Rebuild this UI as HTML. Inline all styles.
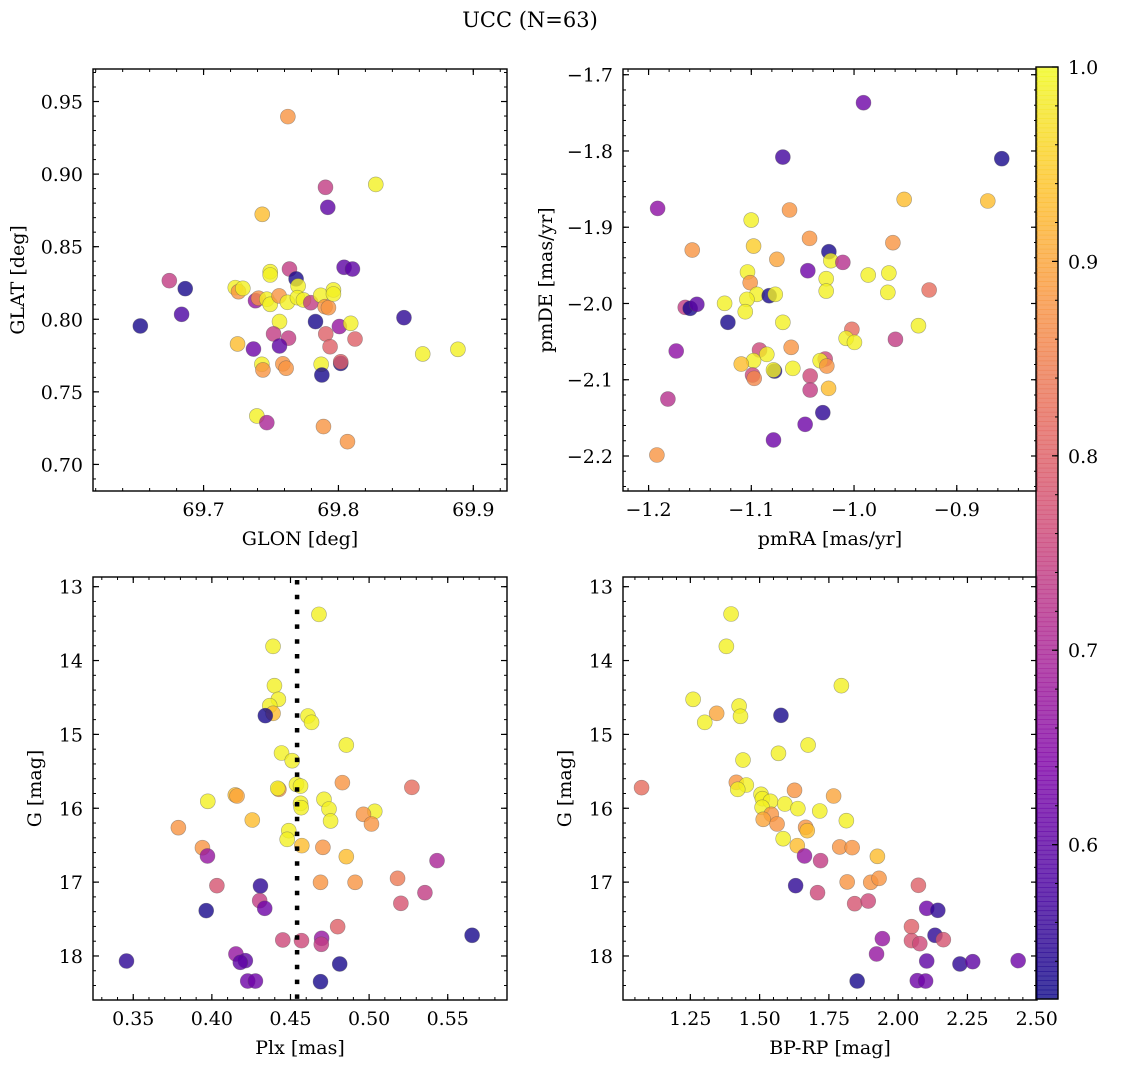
<!DOCTYPE html>
<html><head><meta charset="utf-8"><style>
html,body{margin:0;padding:0;background:#fff}
svg{display:block;font-family:"DejaVu Serif","Liberation Serif",serif}
</style></head><body>
<svg id="fig" width="1136" height="1067" viewBox="0 0 1136 1067" xmlns="http://www.w3.org/2000/svg">
<rect width="1136" height="1067" fill="#fff"/>
<text x="530" y="27" font-size="21" text-anchor="middle">UCC (N=63)</text>
</svg>
<script>
// ---- Panel 1: GLON / GLAT ----
const p1Glon=[69.7625,69.7904,69.8277,69.7921,69.7435,69.7637,69.8042,69.8104,69.7494,69.7494,69.7686,69.7701,69.6746,69.6864,69.7235,69.7259,69.7291,69.7385,69.7407,69.7469,69.7494,69.7560,69.7622,69.7696,69.7741,69.7795,69.7869,69.7901,69.7926,69.7963,69.7963,69.6837,69.6531,69.7830,69.7563,69.8007,69.8091,69.8486,69.7519,69.7630,69.7906,69.7938,69.8123,69.7252,69.7370,69.7563,69.8625,69.8886,69.7432,69.7440,69.7588,69.7612,69.7872,69.7877,69.8017,69.8017,69.7395,69.7469,69.7889,69.8067];
const p1Glat=[0.9396,0.8909,0.8929,0.8771,0.8723,0.8346,0.8358,0.8346,0.8328,0.8305,0.8278,0.8229,0.8266,0.8211,0.8218,0.8190,0.8213,0.8128,0.8145,0.8138,0.8103,0.8161,0.8117,0.8149,0.8133,0.8114,0.8165,0.8087,0.8080,0.8202,0.8174,0.8034,0.7954,0.7984,0.7984,0.7950,0.7972,0.8011,0.7899,0.7870,0.7899,0.7811,0.7864,0.7830,0.7795,0.7816,0.7761,0.7793,0.7690,0.7651,0.7693,0.7663,0.7690,0.7616,0.7696,0.7707,0.7334,0.7288,0.7261,0.7157];
const p1Prob=[0.88,0.74,0.99,0.60,0.93,0.74,0.60,0.60,0.99,0.99,0.53,0.99,0.74,0.53,0.99,0.88,0.99,0.67,0.87,0.99,0.99,0.88,0.99,0.99,0.99,0.74,0.99,0.88,0.88,0.99,0.99,0.58,0.53,0.53,0.99,0.67,0.99,0.55,0.74,0.74,0.80,0.80,0.80,0.93,0.62,0.60,0.99,0.99,0.99,0.88,0.88,0.88,0.99,0.53,0.53,0.80,0.99,0.70,0.88,0.88];
// ---- Panel 2: pmRA / pmDE ----
const p2Pmra=[-0.9908,-1.0693,-0.8562,-1.1912,-0.9512,-0.8698,-1.0628,-1.1001,-1.1575,-1.0433,-1.0978,-0.9622,-1.0245,-1.0226,-1.0109,-1.0751,-1.0450,-1.1037,-1.0271,-0.9862,-0.9661,-1.1011,-1.0271,-0.9671,-0.9269,-1.0946,-1.0826,-1.0767,-1.1043,-1.1260,-1.1643,-1.1595,-1.1530,-1.1059,-1.1228,-1.0693,-0.9373,-1.0021,-1.0077,-0.9996,-0.9597,-1.1731,-1.0612,-1.0920,-1.0849,-1.0978,-1.1098,-1.0281,-1.0330,-1.0265,-1.0774,-1.0784,-1.0596,-1.0988,-1.0972,-1.0427,-1.0427,-1.0248,-1.1812,-1.0304,-1.0476,-1.0784,-1.1919];
const p2Pmde=[-1.7367,-1.8080,-1.8101,-1.8753,-1.8635,-1.8656,-1.8774,-1.8906,-1.9299,-1.9146,-1.9247,-1.9203,-1.9321,-1.9439,-1.9461,-1.9421,-1.9570,-1.9587,-1.9675,-1.9627,-1.9601,-1.9727,-1.9837,-1.9854,-1.9823,-1.9880,-1.9898,-1.9880,-1.9946,-1.9998,-2.0051,-2.0064,-2.0011,-2.0108,-2.0247,-2.0247,-2.0291,-2.0339,-2.0457,-2.0510,-2.0470,-2.0623,-2.0575,-2.0610,-2.0667,-2.0750,-2.0794,-2.0728,-2.0750,-2.0820,-2.0886,-2.0872,-2.0851,-2.0938,-2.0982,-2.0951,-2.1135,-2.1113,-2.1253,-2.1432,-2.1585,-2.1790,-2.1987];
const p2Prob=[0.62,0.57,0.53,0.66,0.93,0.93,0.88,0.99,0.88,0.88,0.95,0.88,0.53,0.99,0.72,0.90,0.62,0.99,0.99,0.99,0.99,0.88,0.99,0.99,0.82,0.99,0.53,0.99,0.99,0.99,0.74,0.53,0.60,0.99,0.53,0.99,0.99,0.82,0.99,0.99,0.74,0.66,0.88,0.76,0.99,0.99,0.93,0.76,0.99,0.88,0.53,0.99,0.99,0.76,0.86,0.76,0.74,0.93,0.72,0.55,0.62,0.62,0.88];
// ---- Panel 3: Plx / G ----
const p3Plx=[0.4681,0.4389,0.4398,0.4423,0.4368,0.4389,0.4340,0.4611,0.4634,0.4855,0.4443,0.4511,0.4830,0.5272,0.4538,0.4564,0.4426,0.4419,0.4149,0.4160,0.3974,0.4713,0.4564,0.4568,0.4745,0.5036,0.4964,0.4755,0.5015,0.4257,0.3787,0.4489,0.4479,0.4572,0.4706,0.3940,0.3972,0.4855,0.5432,0.5181,0.4691,0.4911,0.4032,0.4309,0.5355,0.5202,0.4304,0.4336,0.3964,0.4800,0.5655,0.4451,0.4570,0.4698,0.4696,0.4153,0.4213,0.4181,0.3457,0.4813,0.4228,0.4277,0.4691];
const p3G=[13.375,13.808,14.340,14.525,14.611,14.715,14.746,14.751,14.837,15.144,15.252,15.356,15.653,15.717,15.676,15.699,15.744,15.730,15.820,15.834,15.906,15.879,15.933,15.992,16.010,16.042,16.082,16.172,16.213,16.159,16.263,16.303,16.421,16.506,16.529,16.534,16.646,16.655,16.709,16.949,17.003,17.003,17.048,17.052,17.143,17.287,17.251,17.355,17.386,17.603,17.720,17.783,17.792,17.761,17.842,17.973,18.063,18.086,18.068,18.108,18.339,18.339,18.348];
const p3Prob=[0.99,0.99,0.99,0.99,0.99,0.93,0.53,0.99,0.99,0.99,0.99,0.99,0.88,0.82,0.99,0.99,0.88,0.99,0.93,0.90,0.99,0.99,0.99,0.99,0.99,0.99,0.88,0.99,0.88,0.93,0.88,0.99,0.99,0.93,0.88,0.88,0.67,0.93,0.70,0.84,0.88,0.88,0.78,0.55,0.74,0.78,0.74,0.62,0.53,0.80,0.53,0.76,0.76,0.67,0.74,0.67,0.60,0.60,0.55,0.53,0.62,0.62,0.53];
// ---- Panel 4: BP-RP / G ----
const p4Bprp=[1.397,1.380,1.795,1.260,1.426,1.345,1.577,1.431,1.302,1.675,1.568,1.440,1.074,1.416,1.452,1.421,1.626,1.505,1.767,1.510,1.539,1.591,1.509,1.638,1.717,1.542,1.513,1.813,1.563,1.666,1.672,1.585,1.789,1.834,1.636,1.925,1.662,1.720,1.816,1.901,1.931,2.073,1.630,1.709,1.843,1.892,2.103,2.143,2.048,2.133,1.943,2.048,2.078,2.163,1.922,2.103,2.223,2.269,2.433,1.852,2.069,2.099];
const p4G=[13.370,13.808,14.340,14.525,14.616,14.715,14.742,14.755,14.837,15.144,15.256,15.347,15.721,15.649,15.685,15.744,15.757,15.811,15.834,15.870,15.906,15.942,15.987,16.005,16.037,16.082,16.150,16.168,16.213,16.258,16.303,16.412,16.524,16.533,16.506,16.651,16.646,16.709,16.998,17.003,16.949,17.043,17.048,17.143,17.292,17.256,17.355,17.382,17.603,17.720,17.765,17.792,17.833,17.779,17.973,18.068,18.108,18.077,18.063,18.339,18.334,18.339];
const p4Prob=[0.99,0.99,0.99,0.99,0.99,0.90,0.53,0.99,0.99,0.99,0.99,0.99,0.82,0.88,0.99,0.99,0.88,0.99,0.90,0.99,0.99,0.99,0.99,0.99,0.99,0.88,0.90,0.99,0.88,0.88,0.93,0.99,0.88,0.88,0.93,0.93,0.67,0.74,0.88,0.88,0.88,0.80,0.55,0.76,0.78,0.76,0.62,0.55,0.80,0.55,0.67,0.78,0.76,0.78,0.67,0.60,0.55,0.60,0.62,0.53,0.62,0.62];
const plxMedian=[0.4542];
const cbTicks=[0.6,0.7,0.8,0.9,1.0];
const VMIN=0.5206, VMAX=1.0;

const NS='http://www.w3.org/2000/svg';
const svg=document.getElementById('fig');
const FS=19;
function mk(tag,attrs,parent){const e=document.createElementNS(NS,tag);for(const k in attrs)e.setAttribute(k,attrs[k]);(parent||svg).appendChild(e);return e;}
const stops=[[0,13,8,135],[0.125,76,2,161],[0.25,126,3,168],[0.375,169,35,149],[0.5,204,71,120],[0.625,229,107,93],[0.75,248,148,65],[0.875,253,195,40],[1,240,249,33]];
function plasma(t){t=Math.max(0,Math.min(1,t));for(let i=1;i<stops.length;i++){if(t<=stops[i][0]){const a=stops[i-1],b=stops[i],f=(t-a[0])/(b[0]-a[0]);return 'rgb('+[1,2,3].map(j=>Math.round(a[j]+f*(b[j]-a[j]))).join(',')+')';}}return 'rgb(240,249,33)';}
function colorOf(p){return plasma((p-VMIN)/(VMAX-VMIN));}
function fmt(v,d){const s=v.toFixed(d);return s.startsWith('-')?'\u2212'+s.slice(1):s;}
function range(min,max,step){const out=[];const a=Math.ceil(min/step-1e-6),b=Math.floor(max/step+1e-6);for(let k=a;k<=b;k++)out.push(k*step);return out;}

function panel(c,xs,ys,ps){
  const g=mk('g',{});
  
  
  const sx=v=>c.L+(v-c.xmin)/(c.xmax-c.xmin)*(c.R-c.L);
  const sy=c.inv?(v=>c.T+(v-c.ymin)/(c.ymax-c.ymin)*(c.B-c.T)):(v=>c.B-(v-c.ymin)/(c.ymax-c.ymin)*(c.B-c.T));
  c.sx=sx;c.sy=sy;
  range(c.xmin,c.xmax,c.xminor).forEach(v=>{const x=sx(v);mk('line',{x1:x,x2:x,y1:c.B,y2:c.B-3,stroke:'#000','stroke-width':1},g);mk('line',{x1:x,x2:x,y1:c.T,y2:c.T+3,stroke:'#000','stroke-width':1},g);});
  range(c.ymin,c.ymax,c.yminor).forEach(v=>{const y=sy(v);mk('line',{x1:c.L,x2:c.L+3,y1:y,y2:y,stroke:'#000','stroke-width':1},g);mk('line',{x1:c.R,x2:c.R-3,y1:y,y2:y,stroke:'#000','stroke-width':1},g);});
  range(c.xmin,c.xmax,c.xmajor).forEach(v=>{const x=sx(v);mk('line',{x1:x,x2:x,y1:c.B,y2:c.B-6,stroke:'#000','stroke-width':1.2},g);mk('line',{x1:x,x2:x,y1:c.T,y2:c.T+6,stroke:'#000','stroke-width':1.2},g);
    const t=mk('text',{x:x,y:c.B+25,'font-size':FS,'text-anchor':'middle'},g);t.textContent=fmt(v,c.xdec);
    
    });
  range(c.ymin,c.ymax,c.ymajor).forEach(v=>{const y=sy(v);mk('line',{x1:c.L,x2:c.L+6,y1:y,y2:y,stroke:'#000','stroke-width':1.2},g);mk('line',{x1:c.R,x2:c.R-6,y1:y,y2:y,stroke:'#000','stroke-width':1.2},g);
    const t=mk('text',{x:c.L-10,y:y+7,'font-size':FS,'text-anchor':'end'},g);t.textContent=fmt(v,c.ydec);
    
    });
  xs.forEach((xv,i)=>{const m=mk('circle',{cx:sx(xv),cy:sy(ys[i]),r:7.5,fill:colorOf(ps[i]),'fill-opacity':0.8,stroke:'#555','stroke-opacity':0.5,'stroke-width':0.6},g);
    
    });
  const f=mk('rect',{x:c.L,y:c.T,width:c.R-c.L,height:c.B-c.T,fill:'none',stroke:'#000','stroke-width':1.4},g);
  
  
  const xl=mk('text',{x:(c.L+c.R)/2,y:c.B+54,'font-size':FS,'text-anchor':'middle'},g);xl.textContent=c.xlabel;
  
  
  const yy=(c.T+c.B)/2;
  const yl=mk('text',{x:c.ylx,y:yy,'font-size':FS,'text-anchor':'middle',transform:'rotate(-90 '+c.ylx+' '+yy+')'},g);yl.textContent=c.ylabel;
  
  
  return c;
}

panel({name:'glon-glat-panel',L:93,R:507,T:69,B:491,xmin:69.618,xmax:69.925,ymin:0.6817,ymax:0.9724,xmajor:0.1,xminor:0.02,xdec:1,ymajor:0.05,yminor:0.01,ydec:2,xlabel:'GLON [deg]',ylabel:'GLAT [deg]',ylx:24},p1Glon,p1Glat,p1Prob);
panel({name:'pm-panel',L:623,R:1037,T:69,B:491,xmin:-1.2249,xmax:-0.8219,ymin:-2.2459,ymax:-1.6925,xmajor:0.1,xminor:0.02,xdec:1,ymajor:0.1,yminor:0.02,ydec:1,xlabel:'pmRA [mas/yr]',ylabel:'pmDE [mas/yr]',ylx:552},p2Pmra,p2Pmde,p2Prob);
const c3=panel({name:'plx-g-panel',L:93,R:507,T:577,B:1000,xmin:0.3244,xmax:0.5877,ymin:12.869,ymax:18.596,inv:true,xmajor:0.05,xminor:0.01,xdec:2,ymajor:1,yminor:0.2,ydec:0,xlabel:'Plx [mas]',ylabel:'G [mag]',ylx:41},p3Plx,p3G,p3Prob);
panel({name:'cmd-panel',L:623,R:1037,T:577,B:1000,xmin:1.007,xmax:2.501,ymin:12.869,ymax:18.596,inv:true,xmajor:0.25,xminor:0.05,xdec:2,ymajor:1,yminor:0.2,ydec:0,xlabel:'BP-RP [mag]',ylabel:'G [mag]',ylx:571},p4Bprp,p4G,p4Prob);

const mx=c3.sx(plxMedian[0]);
const ml=mk('line',{x1:mx,x2:mx,y1:c3.T+3,y2:c3.B,stroke:'#000','stroke-width':4.5,'stroke-dasharray':'4.5 10.3'});



const cb=mk('g',{});


const CL=1036,CR=1058,CT=67,CB=999;const N=200;
for(let i=0;i<N;i++){const y0=CB-(i+1)*(CB-CT)/N;const v=VMIN+(i+0.5)/N*(VMAX-VMIN);mk('rect',{x:CL,y:y0,width:CR-CL,height:(CB-CT)/N+0.6,fill:colorOf(v),'fill-opacity':0.8},cb);}
const cy=v=>CB-(v-VMIN)/(VMAX-VMIN)*(CB-CT);
range(VMIN,VMAX,0.02).forEach(v=>{const y=cy(v);mk('line',{x1:CR,x2:CR-3,y1:y,y2:y,stroke:'#000','stroke-width':1},cb);});
cbTicks.forEach(v=>{const y=cy(v);mk('line',{x1:CR,x2:CR-6,y1:y,y2:y,stroke:'#000','stroke-width':1.2},cb);
  const t=mk('text',{x:CR+10,y:y+7,'font-size':FS},cb);t.textContent=v.toFixed(1);
  
  });
mk('rect',{x:CL,y:CT,width:CR-CL,height:CB-CT,fill:'none',stroke:'#000','stroke-width':1.4},cb);
</script>
</body></html>
